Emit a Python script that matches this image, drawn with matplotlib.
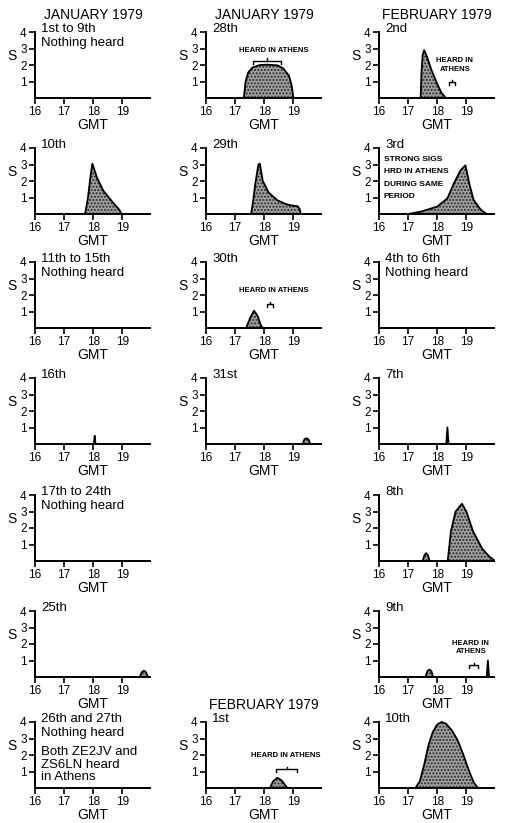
import matplotlib.pyplot as plt

plt.rcParams['font.family'] = ['Liberation Sans', 'DejaVu Sans']

# --- data: signal strength S against GMT (hours) ---
jan28_t = [17.3, 17.36, 17.45, 17.6, 17.85, 18.1, 18.45, 18.65, 18.85, 18.95, 19.0]
jan28_s = [0, 1.0, 1.55, 1.85, 2.0, 2.02, 1.98, 1.8, 1.35, 0.7, 0]

feb2_t = [17.43, 17.46, 17.5, 17.55, 17.65, 17.8, 18.0, 18.15, 18.3]
feb2_s = [0, 1.6, 2.6, 2.9, 2.5, 1.7, 0.85, 0.3, 0]

jan10_t = [17.72, 17.82, 17.9, 17.97, 18.13, 18.35, 18.65, 18.9, 18.97]
jan10_s = [0, 1.0, 2.2, 3.05, 2.2, 1.4, 0.75, 0.25, 0]

jan29_t = [17.55, 17.62, 17.69, 17.8, 17.85, 17.95, 18.15, 18.45, 18.75, 18.9, 19.15, 19.22, 19.25]
jan29_s = [0, 0.8, 1.8, 3.0, 3.05, 2.0, 1.3, 0.83, 0.6, 0.53, 0.47, 0.3, 0]

feb3_t = [17.0, 17.45, 18.0, 18.35, 18.57, 18.8, 18.97, 19.1, 19.25, 19.5, 19.7]
feb3_s = [0, 0.15, 0.45, 0.95, 1.85, 2.65, 2.95, 1.85, 0.85, 0.25, 0]

jan30_t = [17.38, 17.52, 17.65, 17.77, 17.9, 17.96]
jan30_s = [0, 0.63, 1.05, 0.74, 0.1, 0]

jan16_t = [18.02, 18.05, 18.08]
jan16_s = [0, 0.5, 0]

jan31_t = [19.32, 19.38, 19.45, 19.52, 19.58]
jan31_s = [0, 0.28, 0.35, 0.28, 0]

feb7_t = [18.31, 18.35, 18.39]
feb7_s = [0, 1.0, 0]

feb8_t = [17.5, 17.56, 17.62, 17.68, 17.74,
          18.36, 18.47, 18.63, 18.85, 19.0, 19.23, 19.55, 19.8, 19.95]
feb8_s = [0, 0.35, 0.48, 0.35, 0,
          0, 1.8, 3.0, 3.47, 3.0, 1.8, 0.73, 0.25, 0.05]

jan25_t = [19.6, 19.67, 19.74, 19.81, 19.88]
jan25_s = [0, 0.3, 0.38, 0.3, 0]

feb9_t = [17.6, 17.66, 17.73, 17.8, 17.86, 19.7, 19.74, 19.78]
feb9_s = [0, 0.35, 0.45, 0.35, 0, 0, 1.0, 0]

feb1_t = [18.2, 18.3, 18.45, 18.6, 18.75, 18.8]
feb1_s = [0, 0.4, 0.62, 0.45, 0.1, 0]

feb10_t = [17.25, 17.4, 17.55, 17.7, 17.85, 18.0, 18.15, 18.3, 18.5, 18.7, 18.9, 19.1, 19.25, 19.4]
feb10_s = [0, 0.4, 1.4, 2.6, 3.4, 3.85, 4.0, 3.9, 3.5, 2.9, 2.0, 1.0, 0.35, 0]

x_ticks = [16, 17, 18, 19]
y_ticks = [1, 2, 3, 4]

# (row, col, caption lines, times, strengths)
panels = [
    (0, 0, ['1st to 9th', 'Nothing heard'], None, None),
    (0, 1, ['28th'], jan28_t, jan28_s),
    (0, 2, ['2nd'], feb2_t, feb2_s),
    (1, 0, ['10th'], jan10_t, jan10_s),
    (1, 1, ['29th'], jan29_t, jan29_s),
    (1, 2, ['3rd'], feb3_t, feb3_s),
    (2, 0, ['11th to 15th', 'Nothing heard'], None, None),
    (2, 1, ['30th'], jan30_t, jan30_s),
    (2, 2, ['4th to 6th', 'Nothing heard'], None, None),
    (3, 0, ['16th'], jan16_t, jan16_s),
    (3, 1, ['31st'], jan31_t, jan31_s),
    (3, 2, ['7th'], feb7_t, feb7_s),
    (4, 0, ['17th to 24th', 'Nothing heard'], None, None),
    (4, 2, ['8th'], feb8_t, feb8_s),
    (5, 0, ['25th'], jan25_t, jan25_s),
    (5, 2, ['9th'], feb9_t, feb9_s),
    (6, 0, ['26th and 27th', 'Nothing heard'], None, None),
    (6, 1, ['1st'], feb1_t, feb1_s),
    (6, 2, ['10th'], feb10_t, feb10_s),
]

# month headings: (row, col, text)
headings = [(0, 0, 'JANUARY 1979'), (0, 1, 'JANUARY 1979'),
            (0, 2, 'FEBRUARY 1979'), (6, 1, 'FEBRUARY 1979')]

# "heard in Athens" notes: (row, col, text, x, y)
notes = [
    (0, 1, 'HEARD IN ATHENS', 18.34, 2.9),
    (0, 2, 'HEARD IN\nATHENS', 18.6, 2.0),
    (2, 1, 'HEARD IN ATHENS', 18.31, 2.3),
    (5, 2, 'HEARD IN\nATHENS', 19.15, 1.8),
    (6, 1, 'HEARD IN ATHENS', 18.74, 1.97),
]
# brackets under the notes: (row, col, x start, x end, y)
brackets = [
    (0, 1, 17.6, 18.58, 2.25),
    (0, 2, 18.4, 18.6, 0.95),
    (2, 1, 18.1, 18.3, 1.45),
    (5, 2, 19.1, 19.4, 0.7),
    (6, 1, 18.4, 19.13, 1.14),
]

feb3_note = ['STRONG SIGS', 'HRD IN ATHENS', 'DURING SAME', 'PERIOD']
feb3_note_y = [3.3, 2.56, 1.76, 1.06]
both_note = ['Both ZE2JV and', 'ZS6LN heard', 'in Athens']
both_note_y = [2.2, 1.42, 0.67]

# --- layout (pixels) ---
W, H = 509, 823
col_left = [35, 206, 379]
row_base = [98, 214, 328, 444, 561, 677, 788]
ax_w, ax_h = 115, 66

fig = plt.figure(figsize=(W / 100, H / 100), dpi=100)
axes = {}

for row, col, caption, t, s in panels:
    ax = fig.add_axes([col_left[col] / W, 1 - row_base[row] / H, ax_w / W, ax_h / H])
    axes[(row, col)] = ax
    ax.set_xlim(16, 19.95)
    ax.set_ylim(0, 4)
    for side in ['top', 'right']:
        ax.spines[side].set_visible(False)
    for side in ['left', 'bottom']:
        ax.spines[side].set_linewidth(1.4)
    ax.set_xticks(x_ticks)
    ax.set_yticks(y_ticks)
    ax.tick_params(length=4, width=1.2, labelsize=8.5, pad=2)
    ax.set_xlabel('GMT', fontsize=10, labelpad=0)
    ax.text(-0.2, 2.55, 'S', transform=ax.get_yaxis_transform(),
            fontsize=10, ha='center', va='center')

    for i, line in enumerate(caption):
        ax.text(16.22, 4.18 - 0.85 * i, line, fontsize=9.5, ha='left', va='center')

    if t is not None:
        ax.fill_between(t, s, 0, facecolor='#a0a0a0', edgecolor='#2a2a2a',
                        hatch='.....', linewidth=0, clip_on=False)
        ax.plot(t, s, color='black', lw=1.3, clip_on=False)

for row, col, text in headings:
    axes[(row, col)].text(18.0, 5.05, text, fontsize=10, ha='center', va='center')

for row, col, text, x, y in notes:
    axes[(row, col)].text(x, y, text, fontsize=5.5, fontweight='bold',
                          ha='center', va='center', linespacing=1.3)

for row, col, x0, x1, y in brackets:
    ax = axes[(row, col)]
    xm = (x0 + x1) / 2
    ax.plot([x0, x0, x1, x1], [y - 0.18, y, y, y - 0.18], color='black', lw=1.0)
    ax.plot([xm, xm], [y, y + 0.15], color='black', lw=1.0)

ax = axes[(1, 2)]
for line, y in zip(feb3_note, feb3_note_y):
    ax.text(16.17, y, line, fontsize=6, fontweight='bold', ha='left', va='center')

ax = axes[(6, 0)]
for line, y in zip(both_note, both_note_y):
    ax.text(16.22, y, line, fontsize=9.5, ha='left', va='center')

fig.savefig('out.png', dpi=100)
